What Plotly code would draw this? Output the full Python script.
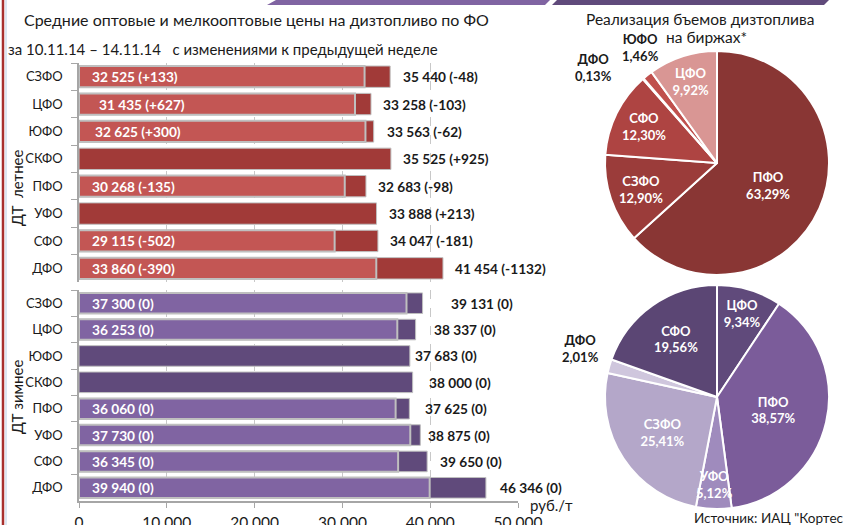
import plotly.graph_objects as go

# ---- data ----
regions = ["СЗФО", "ЦФО", "ЮФО", "СКФО", "ПФО", "УФО", "СФО", "ДФО"]

summer_wholesale = [32525, 31435, 32625, None, 30268, None, 29115, 33860]
summer_wholesale_chg = [133, 627, 300, None, -135, None, -502, -390]
summer_retail = [35440, 33258, 33563, 35525, 32683, 33888, 34047, 41454]
summer_retail_chg = [-48, -103, -62, 925, -98, 213, -181, -1132]

winter_wholesale = [37300, 36253, None, None, 36060, 37730, 36345, 39940]
winter_wholesale_chg = [0, 0, None, None, 0, 0, 0, 0]
winter_retail = [39131, 38337, 37683, 38000, 37625, 38875, 39650, 46346]
winter_retail_chg = [0, 0, 0, 0, 0, 0, 0, 0]

x_ticks = [0, 10000, 20000, 30000, 40000, 50000]

summer_pie_labels = ["ПФО", "СЗФО", "СФО", "ДФО", "ЮФО", "ЦФО"]
summer_pie_shares = [63.29, 12.90, 12.30, 0.13, 1.46, 9.92]

winter_pie_labels = ["ЦФО", "ПФО", "УФО", "СЗФО", "ДФО", "СФО"]
winter_pie_shares = [9.34, 38.57, 5.12, 25.41, 2.01, 19.56]

# ---- styling ----
W, H = 843, 525
FONT = "Lato"
TXT = "#1a1a1a"
SUMMER_LIGHT, SUMMER_DARK = "#C35654", "#A13A38"
WINTER_LIGHT, WINTER_DARK = "#8064A2", "#604A7B"

# pixel gaps between the bar edge and its value label, per row
summer_inner_gap = [11, 18, 14, 11, 11, 11, 11, 11]
summer_outer_gap = [11, 10, 11, 10, 10, 10, 10, 10]
winter_inner_gap = [11] * 8
winter_outer_gap = [26, 16, 3, 14, 14, 6, 11, 12]


def px(x):
    return x / W


def py(y):
    return 1 - y / H


def num(v):
    return f"{v:,}".replace(",", " ")


def chg(v):
    return f"+{v}" if v > 0 else str(v)


def pct(v):
    return f"{v:.2f}".replace(".", ",") + "%"


def note(x, y, text, size, xanchor="center", yanchor="middle", **kw):
    return dict(x=px(x), y=py(y), xref="paper", yref="paper", xanchor=xanchor,
                yanchor=yanchor, text=text, showarrow=False,
                font=dict(family=FONT, size=size, color=kw.pop("color", TXT)), **kw)


fig = go.Figure()

panels = [
    ("x", "y", summer_wholesale, summer_wholesale_chg, summer_retail, summer_retail_chg,
     SUMMER_LIGHT, SUMMER_DARK, summer_inner_gap, summer_outer_gap),
    ("x2", "y2", winter_wholesale, winter_wholesale_chg, winter_retail, winter_retail_chg,
     WINTER_LIGHT, WINTER_DARK, winter_inner_gap, winter_outer_gap),
]

annotations = []
for xa, ya, whl, whl_c, ret, ret_c, c_light, c_dark, g_in, g_out in panels:
    fig.add_trace(go.Bar(
        y=regions, x=ret, orientation="h", xaxis=xa, yaxis=ya,
        marker=dict(color=c_dark, line=dict(color="#BFBFBF", width=1)),
        width=0.78, showlegend=False, hoverinfo="skip",
    ))
    fig.add_trace(go.Bar(
        y=regions, x=whl, orientation="h", xaxis=xa, yaxis=ya,
        marker=dict(color=c_light, line=dict(color="#BFBFBF", width=2)),
        width=0.78, showlegend=False, hoverinfo="skip",
    ))
    for r, w, wc, t, tc, gi, go_ in zip(regions, whl, whl_c, ret, ret_c, g_in, g_out):
        if w is not None:
            annotations.append(dict(
                x=0, y=r, xref=xa, yref=ya, xanchor="left", yanchor="middle", xshift=gi,
                text=f"<b>{num(w)} ({chg(wc)})</b>", showarrow=False,
                font=dict(family=FONT, size=13.7, color="white"),
            ))
        annotations.append(dict(
            x=t, y=r, xref=xa, yref=ya, xanchor="left", yanchor="middle", xshift=go_,
            text=f"<b>{num(t)} ({chg(tc)})</b>", showarrow=False,
            font=dict(family=FONT, size=13.7, color=TXT),
        ))

fig.add_trace(go.Pie(
    labels=summer_pie_labels, values=summer_pie_shares, sort=False,
    direction="clockwise", rotation=0,
    domain=dict(x=[px(605), px(829)], y=[py(275), py(51)]),
    marker=dict(colors=["#893634", "#9B3C3A", "#AE4442", "#C0504D", "#C0504D", "#D99694"],
                line=dict(color="white", width=2)),
    text=[f"<b>{l}<br>{pct(v)}</b>" if v > 5 else "" for l, v in zip(summer_pie_labels, summer_pie_shares)],
    textinfo="text", textposition="inside", insidetextorientation="horizontal",
    textfont=dict(family=FONT, size=13, color="white"),
    showlegend=False, hoverinfo="skip",
))

fig.add_trace(go.Pie(
    labels=winter_pie_labels, values=winter_pie_shares, sort=False,
    direction="clockwise", rotation=0,
    domain=dict(x=[px(605), px(829)], y=[py(509), py(285)]),
    marker=dict(colors=["#604A7B", "#7B5C9A", "#9F8BBD", "#B4A7C9", "#CFC6DD", "#5B4674"],
                line=dict(color="white", width=2)),
    text=[f"<b>{l}<br>{pct(v)}</b>" if v > 6 else "" for l, v in zip(winter_pie_labels, winter_pie_shares)],
    textinfo="text", textposition="inside", insidetextorientation="horizontal",
    textfont=dict(family=FONT, size=13, color="white"),
    showlegend=False, hoverinfo="skip",
))

# labels for the narrow slices, placed by hand
small = [
    (summer_pie_labels, summer_pie_shares, "ЮФО", 640, 48, TXT),
    (summer_pie_labels, summer_pie_shares, "ДФО", 593, 67, TXT),
    (winter_pie_labels, winter_pie_shares, "ДФО", 580, 348, TXT),
    (winter_pie_labels, winter_pie_shares, "УФО", 714, 484, "white"),
]
for labels, shares, name, cx, cy, col in small:
    v = shares[labels.index(name)]
    annotations.append(note(cx, cy, f"<b>{name}<br>{pct(v)}</b>", 13, color=col))

annotations += [
    note(22, 20, "Средние оптовые и мелкооптовые цены на дизтопливо по ФО", 16, xanchor="left"),
    note(6, 49, "за 10.11.14 – 14.11.14   с изменениями к предыдущей неделе", 15, xanchor="left"),
    note(700, 19, "Реализация бъемов дизтоплива", 15.5),
    note(706, 37, "на биржах*", 15.5),
    note(17, 188, "ДТ  летнее", 15, textangle=-90),
    note(17, 397, "ДТ зимнее", 15, textangle=-90),
    note(528, 505, "руб./т", 15, xanchor="left"),
    note(692, 518, "Источник: ИАЦ \"Кортес\"", 13.5, xanchor="left"),
]

shapes = [
    # page frame accents
    dict(type="line", xref="paper", yref="paper", x0=px(3), x1=px(3), y0=0, y1=1,
         line=dict(color="#A8302E", width=2.5)),
    dict(type="line", xref="paper", yref="paper", x0=px(6), x1=px(6), y0=0, y1=1,
         line=dict(color="#DCE6F2", width=2)),
    dict(type="path", xref="paper", yref="paper",
         path=f"M {px(267)},{py(5)} L {px(276)},{py(0)} L {px(550)},{py(0)} L {px(545)},{py(5)} Z",
         fillcolor=WINTER_LIGHT, line=dict(width=0)),
    dict(type="path", xref="paper", yref="paper",
         path=f"M {px(552)},{py(5)} L {px(557)},{py(0)} L {px(829)},{py(0)} L {px(824)},{py(5)} Z",
         fillcolor=WINTER_DARK, line=dict(width=0)),
]

x_dom = [px(79), px(518)]
grid = dict(showgrid=True, gridcolor="#C8C8C8", griddash="dash", gridwidth=1,
            range=[0, 50000], tickvals=x_ticks, zeroline=False, automargin=False)
y_common = dict(type="category", categoryorder="array", categoryarray=regions,
                autorange="reversed", showline=True, linecolor="#A6A6A6", linewidth=1.5,
                ticks="outside", tickson="boundaries", ticklen=6, tickcolor="#A6A6A6",
                ticklabelstandoff=12, showgrid=False, automargin=False,
                tickfont=dict(family=FONT, size=13, color=TXT))

fig.update_layout(
    width=W, height=H, margin=dict(l=0, r=0, t=0, b=0, autoexpand=False),
    paper_bgcolor="white", plot_bgcolor="white",
    barmode="overlay", separators=", ",
    font=dict(family=FONT, color=TXT),
    xaxis=dict(domain=x_dom, anchor="y", showticklabels=False, showline=False, **grid),
    xaxis2=dict(domain=x_dom, anchor="y2", showline=True, linecolor="#A6A6A6", linewidth=1.5,
                ticks="outside", ticklen=5, tickcolor="#A6A6A6", tickformat=",d",
                ticklabelstandoff=2,
                tickfont=dict(family=FONT, size=15.5, color=TXT), **grid),
    yaxis=dict(domain=[py(282), py(63)], anchor="x", **y_common),
    yaxis2=dict(domain=[py(501), py(290)], anchor="x2", **y_common),
    annotations=annotations,
    shapes=shapes,
)

fig.write_html("out.html")
